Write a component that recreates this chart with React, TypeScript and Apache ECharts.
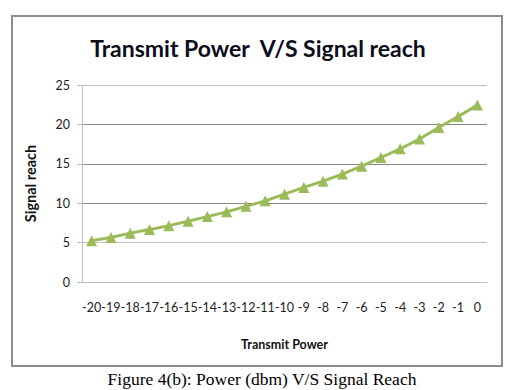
import React, { useEffect, useRef } from "react";
import * as echarts from "echarts";

const categories = ["-20","-19","-18","-17","-16","-15","-14","-13","-12","-11","-10","-9","-8","-7","-6","-5","-4","-3","-2","-1","0"];
const signalReach = [5.25, 5.65, 6.2, 6.65, 7.15, 7.7, 8.3, 8.9, 9.6, 10.3, 11.15, 12.0, 12.8, 13.7, 14.7, 15.8, 16.9, 18.15, 19.6, 21.0, 22.45];
const yTicks = { min: 0, max: 25, interval: 5 };

export default function App() {
  const ref = useRef<HTMLDivElement>(null);
  useEffect(() => {
    if (!ref.current) return;
    const chart = echarts.init(ref.current, null, { renderer: "svg" });
    chart.setOption({
      animation: false,
      backgroundColor: "#ffffff",
      title: {
        text: "Transmit Power  V/S Signal reach",
        left: "center",
        top: 31,
        textStyle: { fontFamily: "Lato", fontWeight: "bold", fontSize: 23, color: "#0d0d1a" },
      },
      grid: { left: 82, right: 29, top: 85, bottom: 108, containLabel: false },
      xAxis: {
        type: "category",
        data: categories,
        boundaryGap: true,
        name: "Transmit Power",
        nameLocation: "middle",
        nameGap: 56,
        nameTextStyle: { fontFamily: "Lato", fontWeight: "bold", fontSize: 12.5, color: "#111" },
        axisLine: { lineStyle: { color: "#bfbfbf", width: 1 } },
        axisTick: { show: false },
        axisLabel: { interval: 0, margin: 19, fontFamily: "Lato", fontSize: 12.5, color: "#222" },
      },
      yAxis: {
        type: "value",
        ...yTicks,
        name: "Signal reach",
        nameLocation: "middle",
        nameGap: 44,
        nameTextStyle: { fontFamily: "Lato", fontWeight: "bold", fontSize: 14.5, color: "#111" },
        axisLine: { show: true, lineStyle: { color: "#bfbfbf" } },
        axisTick: { show: true, length: 5, lineStyle: { color: "#bfbfbf" } },
        axisLabel: { margin: 12, fontFamily: "Lato", fontSize: 12.5, color: "#222" },
        splitLine: { lineStyle: { color: ["#bfbfbf", "#c0c0c0", "#878787", "#878787", "#878787", "#c0c0c0"], width: 1 } },
      },
      graphic: [
        { type: "rect", shape: { x: 12, y: 16, width: 490, height: 350 }, style: { fill: "none", stroke: "#8c8c8c", lineWidth: 2 } },
        {
          type: "text",
          x: 262,
          y: 379,
          style: {
            text: "Figure 4(b): Power (dbm) V/S Signal Reach",
            fontFamily: "Liberation Serif",
            fontSize: 17.5,
            fill: "#000",
            align: "center",
            verticalAlign: "middle",
          },
        },
      ],
      series: [
        {
          type: "line",
          data: signalReach,
          symbol: "triangle",
          symbolSize: 11,
          itemStyle: { color: "#9bbb59" },
          lineStyle: { color: "#9bbb59", width: 3 },
        },
      ],
    });
    return () => chart.dispose();
  }, []);
  return <div ref={ref} style={{ position: "fixed", left: 0, top: 0, width: 516, height: 390 }} />;
}
